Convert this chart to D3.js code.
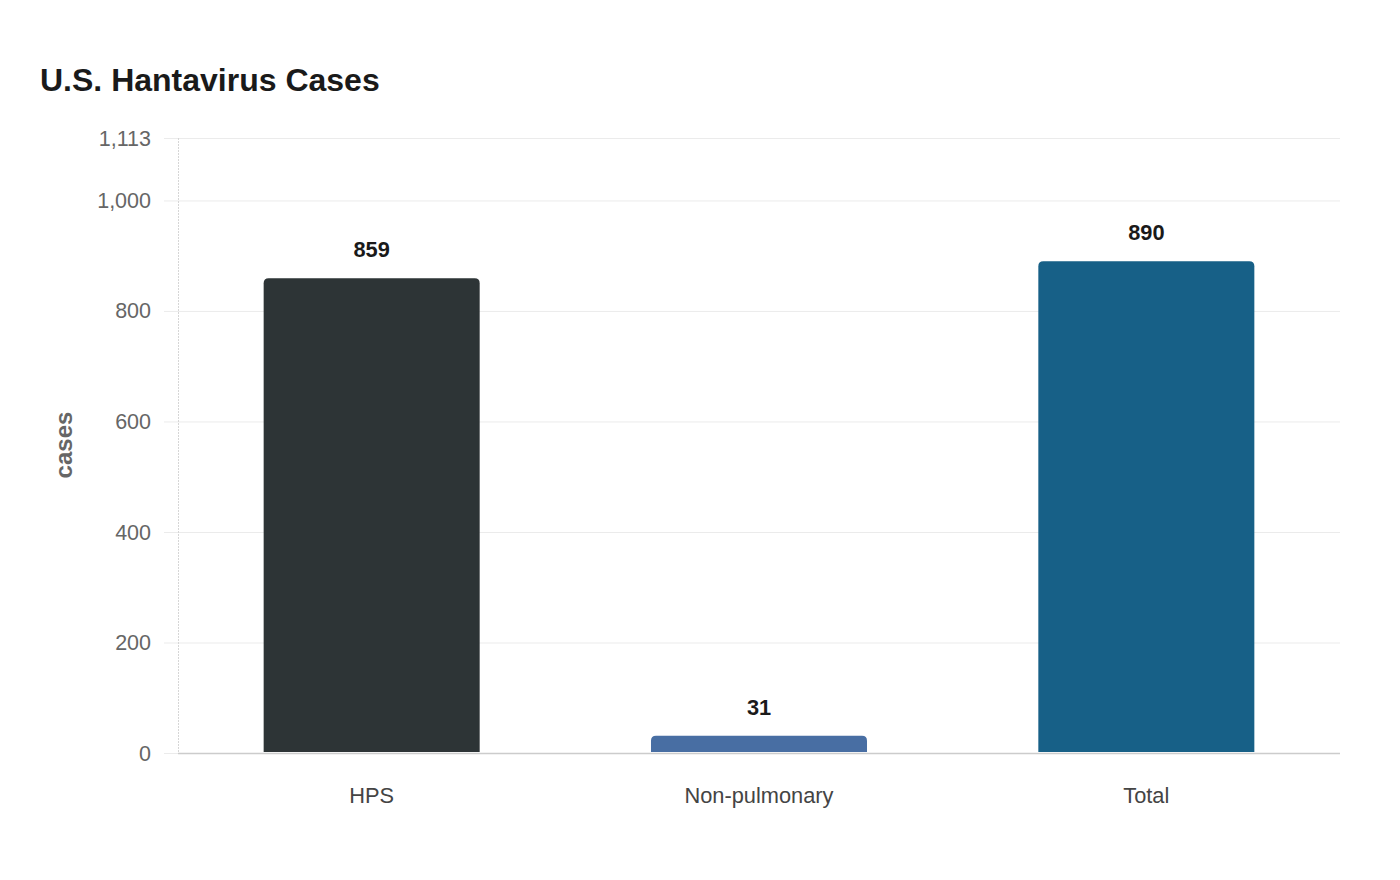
<!DOCTYPE html>
<html>
<head>
<meta charset="utf-8">
<script src="https://cdn.jsdelivr.net/npm/d3@7"></script>
<style>
  body { margin: 0; background: #fff; font-family: "Liberation Sans", Arial, sans-serif; }
  .grid line { stroke: #ebebeb; }
  .grid path { display: none; }
</style>
</head>
<body>
<script>
const w = 1400;
const h = 880;

const categories = ['HPS', 'Non-pulmonary', 'Total'];
const values = [859, 31, 890];
const barColors = ['#2d3436', '#486ea3', '#176087'];
const yTicks = [0, 200, 400, 600, 800, 1000, 1113];
const yMax = 1113;

const plotLeft = 178, plotRight = 1340, plotTop = 138, plotBottom = 753;

const svg = d3.select('body').append('svg').attr('width', w).attr('height', h);

const xScale = d3.scaleBand().domain(categories).range([plotLeft, plotRight]).paddingInner(0.4423).paddingOuter(0.22115);
const yScale = d3.scaleLinear().domain([0, yMax]).range([plotBottom, plotTop]);

// title
svg.append('text')
  .attr('x', 40).attr('y', 91)
  .attr('font-size', 32).attr('font-weight', 'bold').attr('fill', '#1a1a1a')
  .text('U.S. Hantavirus Cases');

// horizontal gridlines
svg.append('g')
  .attr('class', 'grid')
  .attr('transform', 'translate(' + (plotLeft - 14) + ',0)')
  .call(d3.axisRight(yScale).tickValues(yTicks).tickFormat('').tickSize(plotRight - plotLeft + 14));

// y axis line (dotted)
svg.append('line')
  .attr('x1', plotLeft + 0.5).attr('x2', plotLeft + 0.5).attr('y1', plotTop).attr('y2', plotBottom)
  .attr('stroke', '#d6d6d6').attr('stroke-dasharray', '2,1');

// y tick labels
svg.append('g')
  .selectAll('text')
  .data(yTicks)
  .enter()
  .append('text')
  .attr('x', 151)
  .attr('y', d => yScale(d))
  .attr('dy', '0.35em')
  .attr('text-anchor', 'end')
  .attr('font-size', 21.5)
  .attr('fill', '#666')
  .text(d => d3.format(',')(d));

// y axis title
svg.append('text')
  .attr('transform', 'translate(72,445) rotate(-90)')
  .attr('text-anchor', 'middle')
  .attr('font-size', 24).attr('font-weight', 'bold').attr('fill', '#666')
  .text('cases');

// bars with rounded top corners
const r = 5;
svg.selectAll('path.bar')
  .data(values)
  .enter()
  .append('path')
  .attr('class', 'bar')
  .attr('fill', (d, i) => barColors[i])
  .attr('d', (d, i) => {
    const x0 = xScale(categories[i]);
    const x1 = x0 + xScale.bandwidth();
    const y0 = yScale(d);
    const yb = plotBottom - 1;
    return `M${x0},${yb} L${x0},${y0 + r} Q${x0},${y0} ${x0 + r},${y0} L${x1 - r},${y0} Q${x1},${y0} ${x1},${y0 + r} L${x1},${yb} Z`;
  });

// x axis baseline
svg.append('line')
  .attr('x1', plotLeft).attr('x2', plotRight).attr('y1', plotBottom + 0.5).attr('y2', plotBottom + 0.5)
  .attr('stroke', '#cccccc').attr('stroke-width', 1.5);

// value labels
svg.selectAll('text.val')
  .data(values)
  .enter()
  .append('text')
  .attr('class', 'val')
  .attr('x', (d, i) => xScale(categories[i]) + xScale.bandwidth() / 2)
  .attr('y', d => yScale(d) - 21)
  .attr('text-anchor', 'middle')
  .attr('font-size', 21.8).attr('font-weight', 'bold').attr('fill', '#1a1a1a')
  .text(d => d);

// category labels
svg.selectAll('text.cat')
  .data(categories)
  .enter()
  .append('text')
  .attr('class', 'cat')
  .attr('x', d => xScale(d) + xScale.bandwidth() / 2)
  .attr('y', 802.5)
  .attr('text-anchor', 'middle')
  .attr('font-size', 21.8).attr('fill', '#444')
  .text(d => d);
</script>
</body>
</html>
